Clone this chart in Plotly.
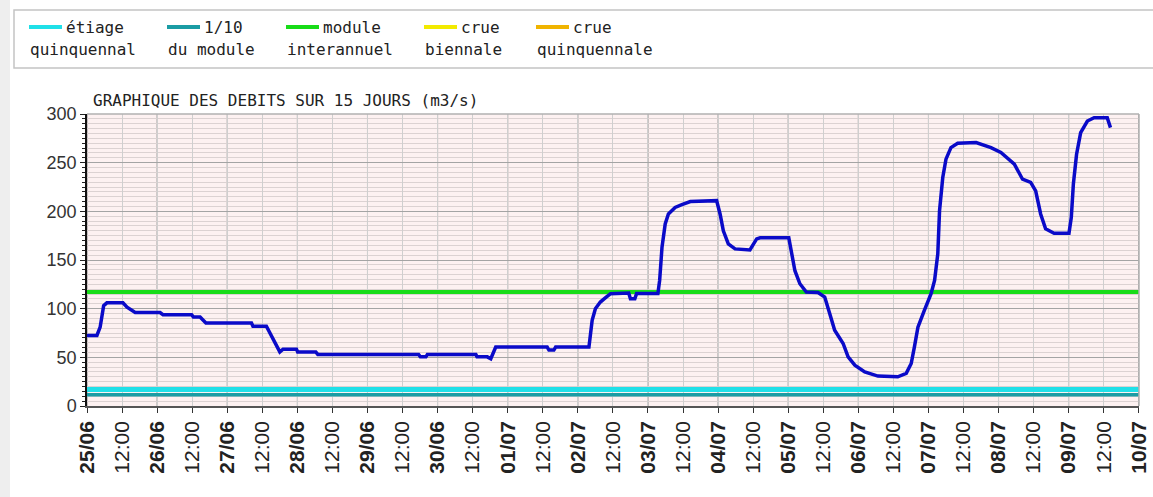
import plotly.graph_objects as go
import pandas as pd

# ---------------- data ----------------
times = [
    "2025-06-25 00:00", "2025-06-25 03:24", "2025-06-25 04:30", "2025-06-25 05:42", "2025-06-25 06:48",
    "2025-06-25 12:18", "2025-06-25 13:42", "2025-06-25 15:24", "2025-06-25 16:30",
    "2025-06-26 01:00", "2025-06-26 02:00", "2025-06-26 11:48", "2025-06-26 12:24", "2025-06-26 14:42",
    "2025-06-26 16:42", "2025-06-27 08:18", "2025-06-27 08:48", "2025-06-27 13:24", "2025-06-27 15:06",
    "2025-06-27 16:48", "2025-06-27 18:00", "2025-06-27 19:06", "2025-06-27 23:42", "2025-06-28 00:06",
    "2025-06-28 06:18", "2025-06-28 07:00", "2025-06-29 17:30", "2025-06-29 18:06", "2025-06-29 20:00",
    "2025-06-29 20:30", "2025-06-30 13:06", "2025-06-30 13:30", "2025-06-30 17:00", "2025-06-30 18:12",
    "2025-06-30 19:54", "2025-07-01 13:30", "2025-07-01 14:06", "2025-07-01 15:48", "2025-07-01 16:24",
    "2025-07-02 03:48", "2025-07-02 04:18", "2025-07-02 04:54", "2025-07-02 06:00", "2025-07-02 07:42",
    "2025-07-02 09:30", "2025-07-02 11:12", "2025-07-02 17:24", "2025-07-02 18:00", "2025-07-02 19:30",
    "2025-07-02 20:06", "2025-07-03 03:24", "2025-07-03 04:00", "2025-07-03 04:48", "2025-07-03 05:54",
    "2025-07-03 07:00", "2025-07-03 09:18", "2025-07-03 11:36", "2025-07-03 14:30", "2025-07-03 23:30",
    "2025-07-04 00:42", "2025-07-04 01:48", "2025-07-04 03:30", "2025-07-04 05:48", "2025-07-04 10:54",
    "2025-07-04 13:12", "2025-07-04 14:24", "2025-07-05 00:12", "2025-07-05 01:06", "2025-07-05 02:18",
    "2025-07-05 04:00", "2025-07-05 06:12", "2025-07-05 10:12", "2025-07-05 12:30", "2025-07-05 14:12",
    "2025-07-05 15:54", "2025-07-05 18:48", "2025-07-05 20:30", "2025-07-05 22:48", "2025-07-06 02:12",
    "2025-07-06 06:42", "2025-07-06 13:30", "2025-07-06 16:24", "2025-07-06 18:06", "2025-07-06 19:12",
    "2025-07-06 20:24", "2025-07-06 22:36", "2025-07-07 00:54", "2025-07-07 02:06", "2025-07-07 03:12",
    "2025-07-07 03:48", "2025-07-07 04:54", "2025-07-07 06:00", "2025-07-07 07:42", "2025-07-07 10:00",
    "2025-07-07 16:18", "2025-07-07 21:24", "2025-07-08 00:48", "2025-07-08 05:24", "2025-07-08 08:12",
    "2025-07-08 11:00", "2025-07-08 12:42", "2025-07-08 14:24", "2025-07-08 16:06", "2025-07-08 19:00",
    "2025-07-09 00:06", "2025-07-09 00:54", "2025-07-09 01:36", "2025-07-09 02:42", "2025-07-09 04:06",
    "2025-07-09 06:24", "2025-07-09 08:42", "2025-07-09 13:12", "2025-07-09 14:18",
]
flow = [
    72.5, 72.5, 81, 103, 106,
    106, 101.5, 98.3, 96,
    96, 93.8, 93.8, 91.5, 91.5,
    85.3, 85.3, 82, 82, 72.7,
    62.5, 55.6, 58.4, 58.4, 55.6,
    55.6, 53, 53, 50.5, 50.5,
    53, 53, 50.5, 50.5, 48.5,
    60.5, 60.5, 57.5, 57.5, 60.5,
    60.5, 71, 88, 100, 106.8,
    111.3, 115.4, 116, 110.2, 110.2,
    115.5, 115.5, 129, 163, 187,
    197.3, 204, 206.8, 210, 211,
    197, 180, 166.5, 161.4, 160.4,
    171.7, 172.8, 172.8, 159.7, 139,
    125.6, 117, 116.6, 112, 95,
    77.8, 64.2, 50.5, 42, 35.1,
    30.7, 30, 33.5, 43.7, 60.7,
    81, 98.3, 115.4, 129, 156.3,
    200.7, 234.8, 253.6, 265.5, 270,
    270.6, 265.5, 260.4, 248.5, 233,
    229.7, 221, 197.3, 182, 177.5,
    177.5, 193.8, 228, 258.7, 280.8,
    292.8, 296.2, 296.2, 286,
]

module_interannuel = 117
dixieme_module = 11.5
etiage_quinquennal = 17

period_start = "2025-06-25 00:00"
period_end = "2025-07-10 00:00"
y_ticks = [0, 50, 100, 150, 200, 250, 300]

legend_labels = [("étiage", "quinquennal"), ("1/10", "du module"), ("module", "interannuel"),
                 ("crue", "biennale"), ("crue", "quinquennale")]
legend_colors = ["#20e0e8", "#1a9ca4", "#18dc18", "#f2ea00", "#f0b400"]

title_text = "GRAPHIQUE DES DEBITS SUR 15 JOURS (m3/s)"

# ---------------- layout geometry ----------------
W, H = 1153, 497
L, R, T, B = 87, 14, 114, 91
PW = W - L - R
PH = H - T - B


def fx(px):
    return (px - L) / PW


def fy(py):
    return (H - B - py) / PH


tick_times = pd.date_range(period_start, period_end, freq="12h")
tick_text = [f"<b>{t:%d/%m}</b>" if t.hour == 0 else "12:00" for t in tick_times]
day_times = [t for t in tick_times if t.hour == 0]
range_end = pd.Timestamp(period_end) + pd.Timedelta(minutes=4)

fig = go.Figure()

for val, col, w in [(etiage_quinquennal, legend_colors[0], 5),
                    (dixieme_module, legend_colors[1], 3.5),
                    (module_interannuel, legend_colors[2], 4)]:
    fig.add_trace(go.Scatter(x=[period_start, range_end], y=[val, val], mode="lines",
                             line=dict(color=col, width=w), showlegend=False, hoverinfo="skip"))

fig.add_trace(go.Scatter(x=times, y=flow, mode="lines",
                         line=dict(color="#0a0ac8", width=3.5), showlegend=False))

shapes = []
# darker day grid lines
for d in day_times:
    shapes.append(dict(type="line", xref="x", yref="paper", x0=d, x1=d, y0=0, y1=1,
                       line=dict(color="#8c8c8c", width=1), layer="between"))
# top and right frame
shapes.append(dict(type="line", xref="paper", yref="paper", x0=0, x1=1, y0=1, y1=1,
                   line=dict(color="#b0b0b0", width=1.5)))
shapes.append(dict(type="line", xref="paper", yref="paper", x0=1, x1=1, y0=0, y1=1,
                   line=dict(color="#b0b0b0", width=1.5)))
# left grey strip of the page
shapes.append(dict(type="rect", xref="paper", yref="paper", x0=fx(0), x1=fx(10), y0=fy(H), y1=fy(0),
                   fillcolor="#eeeeee", line=dict(width=0)))
# legend box
shapes.append(dict(type="rect", xref="paper", yref="paper", x0=fx(14), x1=fx(1160), y0=fy(68), y1=fy(10),
                   fillcolor="white", line=dict(color="#c4c4c4", width=1.5)))

annotations = []
item_starts = [29, 167, 286, 424, 536]
mono = "DejaVu Sans Mono, Liberation Mono, monospace"
for (l1, l2), col, x0 in zip(legend_labels, legend_colors, item_starts):
    shapes.append(dict(type="line", xref="paper", yref="paper", x0=fx(x0), x1=fx(x0 + 33),
                       y0=fy(27), y1=fy(27), line=dict(color=col, width=4)))
    annotations.append(dict(text=l1, xref="paper", yref="paper", x=fx(x0 + 35), y=fy(27),
                            xanchor="left", yanchor="middle", showarrow=False,
                            font=dict(family=mono, size=16, color="#222")))
    annotations.append(dict(text=l2, xref="paper", yref="paper", x=fx(x0 - 1), y=fy(49),
                            xanchor="left", yanchor="middle", showarrow=False,
                            font=dict(family=mono, size=16, color="#222")))

annotations.append(dict(text=title_text, xref="paper", yref="paper", x=fx(91), y=fy(100),
                        xanchor="left", yanchor="middle", showarrow=False,
                        font=dict(family=mono, size=16, color="#222")))

fig.update_layout(
    width=W, height=H, autosize=False,
    margin=dict(l=L, r=R, t=T, b=B, pad=0),
    paper_bgcolor="white", plot_bgcolor="#fdf1f1",
    shapes=shapes, annotations=annotations, showlegend=False,
    xaxis=dict(type="date", range=[period_start, range_end], tickmode="array",
               tickvals=list(tick_times), ticktext=tick_text, tickangle=-90,
               ticklabeloverflow="allow",
               tickfont=dict(family="Liberation Sans, Arial, sans-serif", size=21, color="#222"),
               showgrid=True, gridcolor="#cfcfcf", gridwidth=1,
               ticks="outside", ticklen=5, tickcolor="#333", showline=True, linecolor="#555",
               linewidth=1.5, zeroline=False, automargin=False, fixedrange=True),
    yaxis=dict(range=[0, 300], tickmode="array", tickvals=y_ticks,
               tickfont=dict(family="Liberation Sans, Arial, sans-serif", size=18, color="#333"),
               showgrid=True, gridcolor="#a4a4a4", gridwidth=1,
               minor=dict(dtick=5, showgrid=True, gridcolor="#dcd2d2", gridwidth=1,
                          ticks="outside", ticklen=3, tickcolor="#222"),
               ticks="outside", ticklen=5, tickcolor="#222", showline=True, linecolor="#111",
               linewidth=1.5, zeroline=False, automargin=False, fixedrange=True),
)

fig.write_html("out.html", config={"displayModeBar": False},
               post_script="document.body.style.margin='0';")
